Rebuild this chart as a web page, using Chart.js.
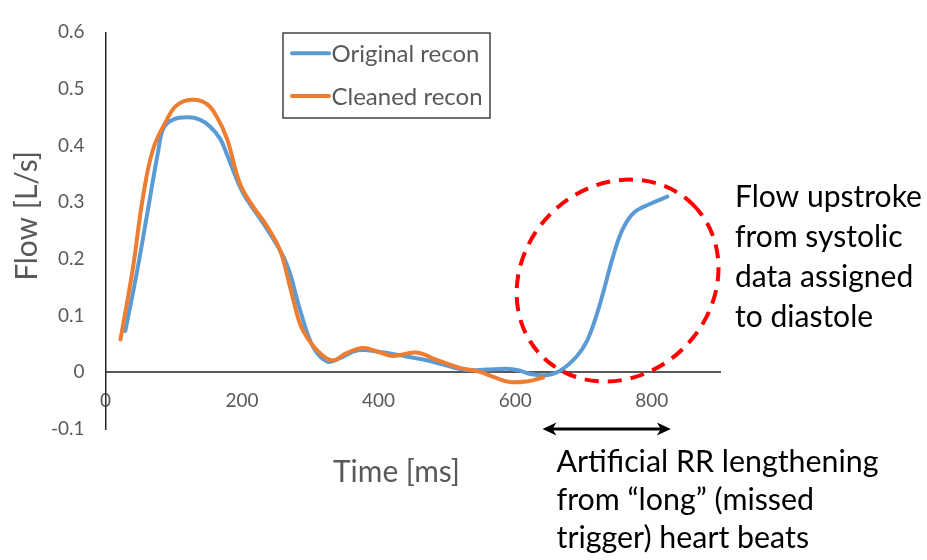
<!DOCTYPE html>
<html><head><meta charset="utf-8">
<script src="https://cdn.jsdelivr.net/npm/chart.js@4"></script>
<style>html,body{margin:0;padding:0;background:#fff;}canvas{display:block;}</style>
</head><body>
<canvas id="c" width="927" height="560"></canvas>
<script>
// ---- data ----
const seriesNames = ['Original recon', 'Cleaned recon'];
const originalTime = [29, 46, 63, 77, 85, 99, 121, 138, 153, 168, 178, 197, 207, 236, 265, 285, 304, 325, 343, 370, 402, 441, 475, 505, 530, 558, 592, 607, 622, 646, 666, 690, 705, 720, 731, 743, 758, 775, 799, 823];
const originalFlow = [0.073, 0.177, 0.293, 0.389, 0.431, 0.446, 0.450, 0.446, 0.434, 0.412, 0.384, 0.327, 0.305, 0.254, 0.192, 0.110, 0.045, 0.019, 0.025, 0.039, 0.036, 0.028, 0.020, 0.010, 0.004, 0.005, 0.006, 0.003, -0.003, -0.005, 0.003, 0.028, 0.055, 0.104, 0.150, 0.203, 0.254, 0.283, 0.298, 0.310];
const cleanedTime = [22, 40, 55, 70, 90, 104, 126, 148, 163, 178, 197, 216, 236, 256, 270, 285, 295, 314, 333, 353, 377, 400, 421, 455, 485, 519, 548, 568, 592, 617, 641];
const cleanedFlow = [0.058, 0.183, 0.310, 0.395, 0.446, 0.471, 0.481, 0.474, 0.451, 0.412, 0.333, 0.293, 0.259, 0.214, 0.152, 0.085, 0.062, 0.034, 0.021, 0.034, 0.043, 0.036, 0.029, 0.035, 0.022, 0.008, 0.001, -0.008, -0.017, -0.016, -0.009];
const xTicks = [0, 200, 400, 600, 800];
const xTickLabels = ['0', '200', '400', '600', '800'];
const yTicks = [-0.1, 0, 0.1, 0.2, 0.3, 0.4, 0.5, 0.6];
const yTickLabels = ['-0.1', '0', '0.1', '0.2', '0.3', '0.4', '0.5', '0.6'];
const xRange = [0, 900];
const yRange = [-0.1, 0.6];
const xTitle = 'Time [ms]';
const yTitle = 'Flow [L/s]';
const upstrokeNote = ['Flow upstroke', 'from systolic', 'data assigned', 'to diastole'];
const rrNote = ['Artificial RR lengthening', 'from \u201Clong\u201D (missed', 'trigger) heart beats'];
const rrSpan = [640, 828];      // ms, double arrow
const rrLevel = -0.1;           // flow level of the arrow
const circleCenter = [750, 0.162];

// ---- styling ----
const FAMILY = 'Lato, Carlito, "Open Sans", sans-serif';
const GREY = '#595959';
const mctx = document.createElement('canvas').getContext('2d');
function fit(text, width, weight) {
  mctx.font = (weight || 'normal') + ' 100px ' + FAMILY;
  return 100 * width / mctx.measureText(text).width;
}
const tickSize = fit('800', 33);
const titleSize = fit(xTitle, 127);
const legendSize = fit(seriesNames[0], 148);
const noteSize = fit(upstrokeNote[0], 187);
const rrSize = fit(rrNote[0], 322);

const overlay = {
  id: 'overlay',
  afterDraw(chart) {
    const ctx = chart.ctx, xs = chart.scales.x, ys = chart.scales.y;
    ctx.save();
    // axis titles
    ctx.fillStyle = GREY;
    ctx.font = titleSize + 'px ' + FAMILY;
    ctx.textAlign = 'center';
    ctx.textBaseline = 'alphabetic';
    ctx.fillText(xTitle, 396.5, 481.5);
    ctx.save();
    ctx.translate(37, 216);
    ctx.rotate(-Math.PI / 2);
    ctx.fillText(yTitle, 0, 0);
    ctx.restore();

    // legend
    const lx = 283, ly = 33, lw = 207, lh = 85;
    ctx.strokeStyle = '#262626';
    ctx.lineWidth = 1.3;
    ctx.strokeRect(lx, ly, lw, lh);
    const rows = [53.3, 96];
    const baselines = [61.7, 105];
    chart.data.datasets.forEach((ds, i) => {
      ctx.strokeStyle = ds.borderColor;
      ctx.lineWidth = 4;
      ctx.lineCap = 'round';
      ctx.beginPath();
      ctx.moveTo(292, rows[i]);
      ctx.lineTo(329, rows[i]);
      ctx.stroke();
      ctx.fillStyle = GREY;
      ctx.font = legendSize + 'px ' + FAMILY;
      ctx.textAlign = 'left';
      ctx.fillText(ds.label, 331.5, baselines[i]);
    });

    // dashed red ellipse
    const cx = xs.getPixelForValue(circleCenter[0]);
    const cy = ys.getPixelForValue(circleCenter[1]);
    ctx.strokeStyle = '#FF0000';
    ctx.lineWidth = 4;
    ctx.lineCap = 'butt';
    ctx.setLineDash([14, 9]);
    ctx.beginPath();
    ctx.ellipse(cx, cy, 107, 94.5, -Math.PI / 4, 0, Math.PI * 2);
    ctx.stroke();
    ctx.setLineDash([]);

    // double arrow
    const ax1 = xs.getPixelForValue(rrSpan[0]);
    const ax2 = xs.getPixelForValue(rrSpan[1]);
    const ay = ys.getPixelForValue(rrLevel);
    ctx.strokeStyle = '#000';
    ctx.fillStyle = '#000';
    ctx.lineWidth = 3;
    ctx.beginPath();
    ctx.moveTo(ax1 + 8, ay);
    ctx.lineTo(ax2 - 8, ay);
    ctx.stroke();
    const head = (x, dir) => {
      ctx.beginPath();
      ctx.moveTo(x, ay);
      ctx.lineTo(x - dir * 14, ay - 6.5);
      ctx.lineTo(x - dir * 10, ay);
      ctx.lineTo(x - dir * 14, ay + 6.5);
      ctx.closePath();
      ctx.fill();
    };
    head(ax1, -1);
    head(ax2, 1);

    // notes
    ctx.fillStyle = '#000';
    ctx.textAlign = 'left';
    ctx.font = noteSize + 'px ' + FAMILY;
    upstrokeNote.forEach((t, i) => ctx.fillText(t, 735, 206.7 + i * 40));
    ctx.font = rrSize + 'px ' + FAMILY;
    rrNote.forEach((t, i) => ctx.fillText(t, 556.5, 471.7 + i * 38.3));
    ctx.restore();
  }
};

new Chart(document.getElementById('c'), {
  type: 'line',
  data: {
    datasets: [
      {
        label: seriesNames[0],
        data: originalTime.map((t, i) => ({x: t, y: originalFlow[i]})),
        borderColor: '#5B9BD5', borderWidth: 4, pointRadius: 0,
        tension: 0.4, borderCapStyle: 'round', borderJoinStyle: 'round',
        fill: false, order: 1
      },
      {
        label: seriesNames[1],
        data: cleanedTime.map((t, i) => ({x: t, y: cleanedFlow[i]})),
        borderColor: '#ED7D31', borderWidth: 4, pointRadius: 0,
        tension: 0.4, borderCapStyle: 'round', borderJoinStyle: 'round',
        fill: false, order: 0
      }
    ]
  },
  options: {
    responsive: false, animation: false, devicePixelRatio: 1,
    layout: {padding: {left: 0, top: 15, right: 207, bottom: 131}},
    plugins: {legend: {display: false}, tooltip: {enabled: false}},
    scales: {
      x: {
        type: 'linear', position: {y: 0}, min: xRange[0], max: xRange[1],
        afterBuildTicks: s => { s.ticks = xTicks.map(v => ({value: v})); },
        grid: {display: false, drawTicks: false},
        border: {display: true, color: '#595959', width: 2},
        ticks: {
          color: GREY, font: {family: FAMILY, size: tickSize}, padding: 17,
          maxRotation: 0, autoSkip: false,
          callback: (v, i) => xTickLabels[i]
        }
      },
      y: {
        type: 'linear', position: 'left', min: yRange[0], max: yRange[1],
        afterBuildTicks: s => { s.ticks = yTicks.map(v => ({value: v})); },
        afterFit: s => { s.width = 105.5; },
        grid: {display: false, drawTicks: false},
        border: {display: true, color: '#262626', width: 1.5},
        ticks: {
          color: GREY, font: {family: FAMILY, size: tickSize}, padding: 21,
          autoSkip: false,
          callback: (v, i) => yTickLabels[i]
        }
      }
    }
  },
  plugins: [overlay]
});
</script>
</body></html>
